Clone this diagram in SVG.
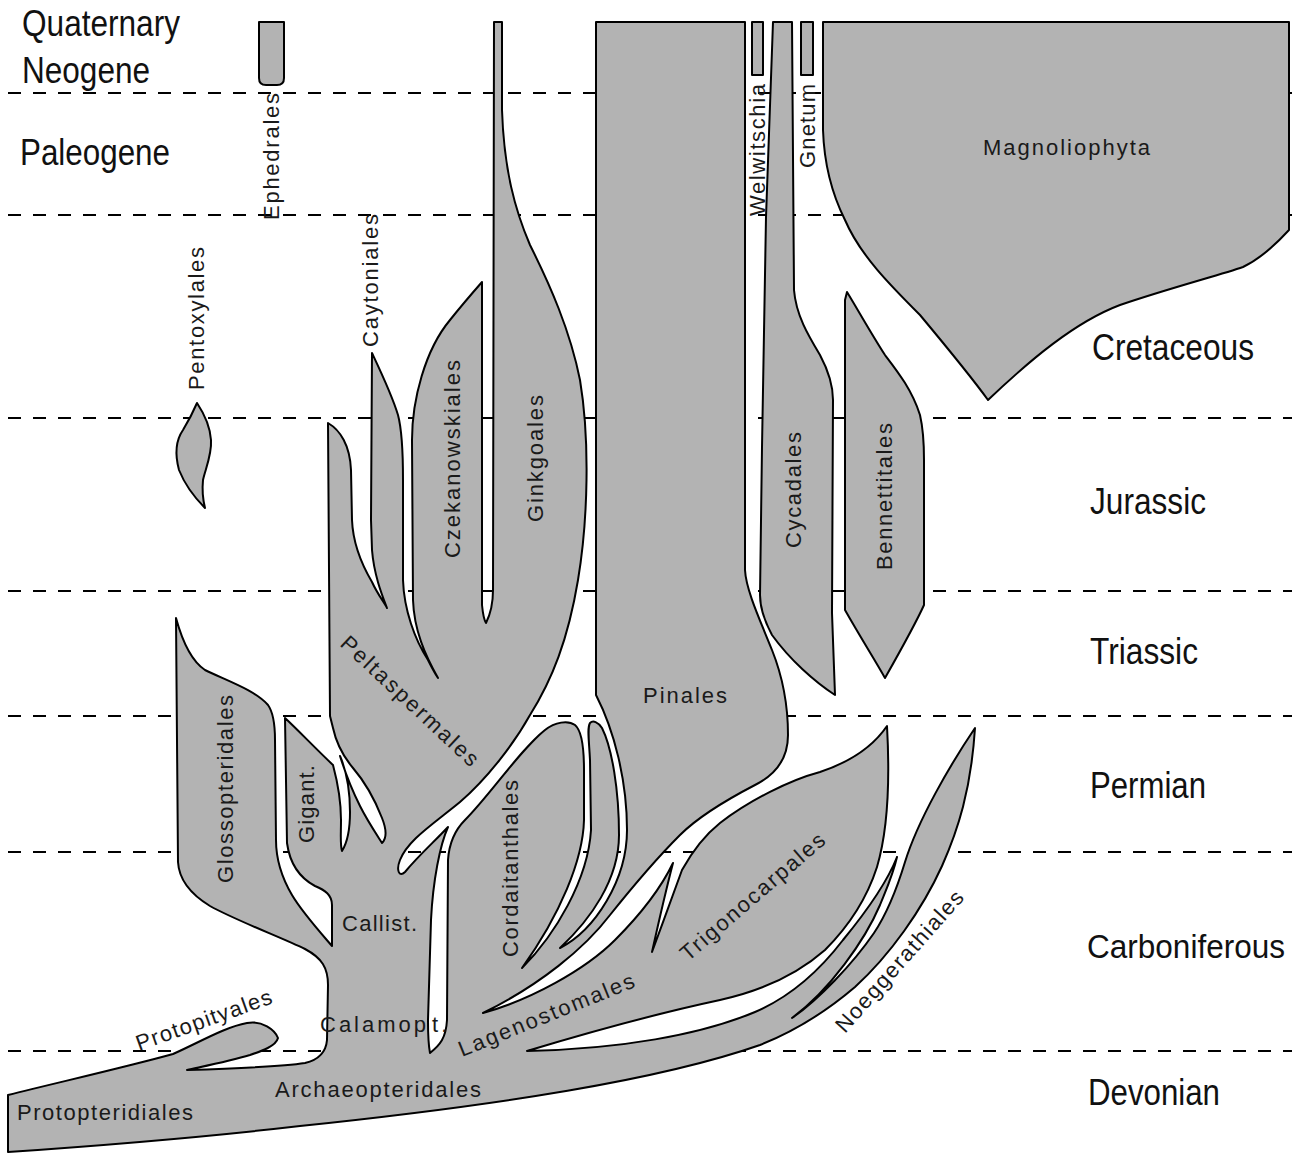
<svg xmlns="http://www.w3.org/2000/svg" width="1301" height="1153" viewBox="0 0 1301 1153">
<style>
.shape{fill:#b3b3b3;stroke:#000;stroke-width:2;stroke-linejoin:round}
.div{stroke:#000;stroke-width:2;stroke-dasharray:13 12;fill:none}
.era{font-family:"Liberation Sans",Arial,sans-serif;font-size:37px;fill:#111}
.lbl{font-family:"Liberation Sans",Arial,sans-serif;font-size:22px;fill:#1a1a1a}
</style>
<rect width="1301" height="1153" fill="#fff"/>
<g id="period-boundaries">
<line class="div" x1="8" y1="93" x2="1292" y2="93"/>
<line class="div" x1="8" y1="215" x2="1292" y2="215"/>
<line class="div" x1="8" y1="418" x2="1292" y2="418"/>
<line class="div" x1="8" y1="591" x2="1292" y2="591"/>
<line class="div" x1="8" y1="716" x2="1292" y2="716"/>
<line class="div" x1="8" y1="852" x2="1292" y2="852"/>
<line class="div" x1="8" y1="1051" x2="1292" y2="1051"/>
</g>
<g id="connectors"></g>
<g id="main-lineage">
<path class="shape" d="M8,1152 L8,1095 C60,1082 130,1066 173,1054 C200,1042 225,1027 247,1023 C262,1020 275,1030 278,1038 C276,1046 262,1051 250,1055 C230,1061 205,1066 187,1070 C220,1069 280,1067 305,1063 C318,1060 326,1052 327,1040 L328,985 C328,968 322,958 305,949 C280,937 235,920 210,906 C192,895 179,880 178,862 L176,618 C182,640 190,660 205,670 C225,680 255,690 268,705 C273,712 275,725 275,740 L276,840 C276,858 282,878 292,895 C302,912 320,932 332,946 L332,905 C332,895 325,890 315,886 C300,878 290,865 287,843 L285,718 C298,730 315,748 333,765 C337,780 341,800 341,820 C341,835 340,845 342,851 C347,843 350,830 350,812 C350,790 346,770 340,756 C345,772 353,792 360,806 C367,820 375,832 382,843 C387,838 386,828 382,818 C375,800 365,782 353,768 C343,756 336,742 333,728 L330,716 L328,423 C340,430 350,445 351,470 L352,520 C353,545 362,565 372,582 C378,595 384,602 387,608 C382,595 374,575 372,550 L371,520 L372,353 C380,370 392,395 398,415 C402,430 403,450 403,480 L403,580 C404,610 415,640 428,660 C432,668 436,675 438,678 C425,655 414,630 413,600 L412,440 C412,400 425,350 450,320 C462,305 475,290 482,282 L482,605 C483,615 484,620 486,623 C490,615 493,605 493,590 L494,22 L502,22 L502,110 C504,170 515,210 530,245 C550,285 570,330 580,380 C590,440 588,520 578,580 C568,640 552,680 530,715 C515,742 488,778 460,802 C432,825 408,840 400,860 C396,870 399,878 405,872 C418,856 435,841 448,827 C440,845 433,880 431,920 L428,1020 C428,1040 429,1048 430,1053 C440,1045 446,1038 447,1020 L448,860 C449,845 455,830 465,820 C490,795 520,750 545,730 C555,722 568,720 575,725 C581,730 584,745 584,770 L584,820 C583,860 560,915 522,968 C555,935 588,880 591,830 L590,760 C589,740 587,728 590,723 C593,720 598,722 602,728 C612,748 619,790 619,835 C619,880 590,920 560,948 C595,930 627,880 627,830 C627,780 614,730 596,695 L596,22 L745,22 L745,570 C746,590 760,620 772,650 C782,675 788,705 788,735 C788,760 775,775 755,785 C730,798 700,815 680,835 C655,860 630,890 610,915 C585,948 540,985 483,1013 C530,1000 585,970 615,940 C640,915 660,890 673,863 C666,890 658,925 652,952 C662,925 673,895 682,870 C692,852 705,835 720,823 C750,800 790,780 820,772 C850,762 872,748 887,726 C890,780 888,830 877,867 C868,895 850,925 825,950 C800,972 765,990 720,1000 C650,1015 580,1035 527,1051 C620,1049 700,1035 755,1012 C790,997 820,970 843,940 C866,912 888,880 897,857 C893,875 886,890 880,905 C865,940 830,990 792,1018 C818,1000 852,965 874,933 C888,912 898,885 905,862 C918,820 950,765 975,728 C971,790 958,830 942,866 C922,910 890,955 855,987 C828,1010 798,1030 760,1045 C660,1080 500,1105 300,1126 C180,1140 80,1147 8,1152 Z"/>
</g>
<g id="Cycadales"><path class="shape" d="M773,22 L792,22 L794,290 C796,315 808,335 820,355 C828,370 833,385 833,400 L832,613 L835,695 C815,682 790,660 772,635 C765,622 760,610 760,595 L762,447 L766,217 Z"/></g>
<g id="Bennettitales"><path class="shape" d="M847,292 C858,310 872,335 885,355 C898,372 912,390 920,415 C923,428 924,445 924,460 L924,605 C915,625 898,655 885,678 C875,660 862,640 845,610 L845,300 Z"/></g>
<g id="Magnoliophyta"><path class="shape" d="M823,22 L1289,22 L1289,230 C1278,242 1262,258 1243,267 C1220,275 1170,288 1120,305 C1075,322 1030,360 988,400 C970,375 945,345 920,315 C890,285 860,255 845,220 C830,190 824,160 823,130 Z"/></g>
<g id="Welwitschia"><rect class="shape" x="752" y="22" width="11" height="53"/></g>
<g id="Gnetum"><rect class="shape" x="801" y="22" width="12" height="53"/></g>
<g id="Ephedrales"><path class="shape" d="M259,22 H284 V78 Q284,85 277,85 H266 Q259,85 259,78 Z"/></g>
<g id="Pentoxylales"><path class="shape" d="M197,403 C203,412 210,425 211,440 C212,455 205,470 203,480 C202,490 203,500 205,508 C195,498 185,485 179,470 C175,455 176,440 183,430 C189,420 194,410 197,403 Z"/></g>
<g id="taxon-labels">
<text class="lbl" x="983" y="155" textLength="167">Magnoliophyta</text>
<text class="lbl" x="643" y="703" textLength="84">Pinales</text>
<text class="lbl" x="342" y="931" textLength="75">Callist.</text>
<text class="lbl" x="320" y="1032" letter-spacing="3">Calamop<tspan dx="3">t.</tspan></text>
<text class="lbl" x="275" y="1097" textLength="206">Archaeopteridales</text>
<text class="lbl" x="17" y="1120" textLength="176">Protopteridiales</text>
<text class="lbl" transform="translate(139,1051) rotate(-19.6)" textLength="143">Protopityales</text>
<text class="lbl" transform="translate(462,1057) rotate(-22)" textLength="188">Lagenostomales</text>
<text class="lbl" transform="translate(688,962) rotate(-40.7)" textLength="183">Trigonocarpales</text>
<text class="lbl" transform="translate(845,1034) rotate(-48.5)" textLength="181">Noeggerathiales</text>
<text class="lbl" transform="translate(339,645) rotate(43)" textLength="180">Peltaspermales</text>
<text class="lbl" transform="translate(279,220) rotate(-90)" textLength="127">Ephedrales</text>
<text class="lbl" transform="translate(765,216) rotate(-90)" textLength="132">Welwitschia</text>
<text class="lbl" transform="translate(815,168) rotate(-90)" textLength="84">Gnetum</text>
<text class="lbl" transform="translate(204,390) rotate(-90)" textLength="143">Pentoxylales</text>
<text class="lbl" transform="translate(378,347) rotate(-90)" textLength="133">Caytoniales</text>
<text class="lbl" transform="translate(460,558) rotate(-90)" textLength="198">Czekanowskiales</text>
<text class="lbl" transform="translate(543,522) rotate(-90)" textLength="127">Ginkgoales</text>
<text class="lbl" transform="translate(801,548) rotate(-90)" textLength="116">Cycadales</text>
<text class="lbl" transform="translate(892,570) rotate(-90)" textLength="147">Bennettitales</text>
<text class="lbl" transform="translate(233,883) rotate(-90)" textLength="188">Glossopteridales</text>
<text class="lbl" transform="translate(314,843) rotate(-90)" textLength="78">Gigant.</text>
<text class="lbl" transform="translate(518,957) rotate(-90)" textLength="177">Cordaitanthales</text>
</g>
<g id="period-labels">
<text class="era" x="22" y="36" textLength="158" lengthAdjust="spacingAndGlyphs">Quaternary</text>
<text class="era" x="22" y="83" textLength="128" lengthAdjust="spacingAndGlyphs">Neogene</text>
<text class="era" x="20" y="165" textLength="150" lengthAdjust="spacingAndGlyphs">Paleogene</text>
<text class="era" x="1092" y="360" textLength="162" lengthAdjust="spacingAndGlyphs">Cretaceous</text>
<text class="era" x="1090" y="514" textLength="116" lengthAdjust="spacingAndGlyphs">Jurassic</text>
<text class="era" x="1090" y="664" textLength="108" lengthAdjust="spacingAndGlyphs">Triassic</text>
<text class="era" x="1090" y="798" textLength="116" lengthAdjust="spacingAndGlyphs">Permian</text>
<text class="era" x="1087" y="958" textLength="198" lengthAdjust="spacingAndGlyphs" style="font-size:33px">Carboniferous</text>
<text class="era" x="1088" y="1105" textLength="132" lengthAdjust="spacingAndGlyphs">Devonian</text>
</g>
</svg>
